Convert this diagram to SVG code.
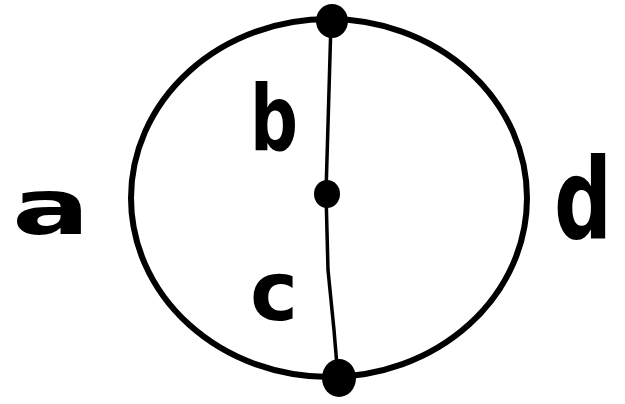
<svg xmlns="http://www.w3.org/2000/svg" width="625" height="404" viewBox="0 0 625 404">
<style>
.lbl{font-family:"DejaVu Sans",sans-serif;font-weight:bold;fill:#000}
.edge{fill:none;stroke:#000;stroke-linecap:round}
.dot{fill:#000}
</style>
<rect width="625" height="404" fill="#fff"/>
<g id="connectors">
<ellipse class="edge" stroke-width="6" cx="329" cy="198" rx="198" ry="179"/>
<path class="edge" stroke-width="3.5" d="M331,22 L326,193 L328,270 L334,330 L338,378"/>
</g>
<g id="node-top"><ellipse class="dot" cx="332" cy="21" rx="16" ry="17"/></g>
<g id="node-mid"><ellipse class="dot" cx="327" cy="194" rx="13" ry="14"/></g>
<g id="node-bottom"><ellipse class="dot" cx="339" cy="378" rx="17" ry="19"/></g>
<g id="label-a"><text class="lbl" x="12" y="234" font-size="76" textLength="78" lengthAdjust="spacingAndGlyphs">a</text></g>
<g id="label-b"><text class="lbl" x="250" y="150" font-size="90" textLength="48" lengthAdjust="spacingAndGlyphs">b</text></g>
<g id="label-c"><text class="lbl" x="250" y="320" font-size="82" textLength="48" lengthAdjust="spacingAndGlyphs">c</text></g>
<g id="label-d"><text class="lbl" transform="translate(554,238) scale(1,1.4)" x="0" y="0" font-size="80" textLength="58" lengthAdjust="spacingAndGlyphs">d</text></g>
</svg>
